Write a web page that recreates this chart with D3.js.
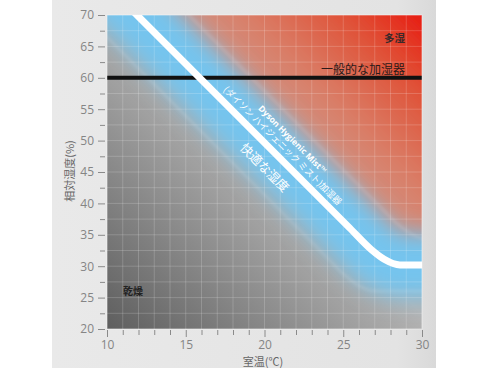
<!DOCTYPE html>
<html>
<head>
<meta charset="utf-8">
<script src="https://cdn.jsdelivr.net/npm/d3@7"></script>
<style>
  body { margin: 0; background: #fff; }
  text { font-family: "Open Sans", "Noto Sans", sans-serif; }
  .jp { font-family: "Noto Sans CJK JP", sans-serif; }
</style>
</head>
<body>
<svg id="humidity" width="490" height="368"></svg>
<script>
const svg = d3.select('#humidity');

// axis ticks
const tempTicks = d3.range(10, 30.1, 1);
const tempLabels = [10, 15, 20, 25, 30];
const humTicks = d3.range(20, 70.1, 2.5);
const humLabels = [20, 25, 30, 35, 40, 45, 50, 55, 60, 65, 70];

// Dyson Hygienic Mist curve (temp C, rel. humidity %)
const mistTemp = [10.0, 11.9, 25.4, 26.8, 27.6, 28.6, 30.0, 34.0];
const mistHum  = [74.8, 70.0, 36.1, 32.6, 31.1, 30.2, 30.2, 30.2];
// ordinary humidifier level
const generalHum = 60;

const mist = mistTemp.map((t, i) => ({ t, h: mistHum[i] }));

const x = d3.scaleLinear().domain([10, 30]).range([107, 422]);
const y = d3.scaleLinear().domain([20, 70]).range([329, 15]);
const [x0, x1] = x.range();
const [y0, y1] = [y(70), y(20)];

const defs = svg.append('defs');

// background panel
const panelGrad = defs.append('linearGradient').attr('id', 'panel')
  .attr('x1', 0).attr('x2', 1).attr('y1', 0).attr('y2', 0);
panelGrad.append('stop').attr('offset', 0).attr('stop-color', '#e9e9e9');
panelGrad.append('stop').attr('offset', 0.9).attr('stop-color', '#e3e3e3');
panelGrad.append('stop').attr('offset', 1).attr('stop-color', '#d9d9d9');
svg.append('rect').attr('x', 52).attr('y', 0).attr('width', 384).attr('height', 368)
  .attr('fill', 'url(#panel)');

defs.append('clipPath').attr('id', 'plot-clip')
  .append('rect').attr('x', x0).attr('y', y0).attr('width', x1 - x0).attr('height', y1 - y0);

// gray (dry) gradient
const grayGrad = defs.append('linearGradient').attr('id', 'gray')
  .attr('gradientUnits', 'userSpaceOnUse')
  .attr('x1', x0).attr('y1', y1).attr('x2', 272).attr('y2', 164);
grayGrad.append('stop').attr('offset', 0).attr('stop-color', '#5e5e5e');
grayGrad.append('stop').attr('offset', 1).attr('stop-color', '#b4b4b4');

// red (humid) gradient
const redGrad = defs.append('linearGradient').attr('id', 'red')
  .attr('gradientUnits', 'userSpaceOnUse')
  .attr('x1', 272).attr('y1', 150).attr('x2', 422).attr('y2', 0);
redGrad.append('stop').attr('offset', 0).attr('stop-color', '#c99c90');
redGrad.append('stop').attr('offset', 0.35).attr('stop-color', '#d9806a');
redGrad.append('stop').attr('offset', 0.7).attr('stop-color', '#e05035');
redGrad.append('stop').attr('offset', 1).attr('stop-color', '#e8100a');

const blur = (id, sd) => defs.append('filter').attr('id', id)
  .attr('filterUnits', 'userSpaceOnUse')
  .attr('x', 0).attr('y', -100).attr('width', 600).attr('height', 600)
  .append('feGaussianBlur').attr('stdDeviation', sd);
blur('soft-red', 12);
blur('soft-blue', 11);
blur('soft-edge', 1.5);

const plot = svg.append('g').attr('clip-path', 'url(#plot-clip)');

plot.append('rect').attr('x', x0).attr('y', y0).attr('width', x1 - x0).attr('height', y1 - y0)
  .attr('fill', 'url(#gray)');

const line = d3.line().x(d => x(d.t)).y(d => y(d.h)).curve(d3.curveMonotoneX);
const area = d3.area().x(d => x(d.t)).y0(d => y(d.h)).y1(y(90)).curve(d3.curveMonotoneX);

plot.append('path').attr('d', area(mist))
  .attr('fill', 'url(#red)').attr('filter', 'url(#soft-red)');

plot.append('path').attr('d', line(mist))
  .attr('fill', 'none').attr('stroke', '#74c4ee').attr('stroke-width', 64)
  .attr('filter', 'url(#soft-blue)');

// faint band edges
[[-26, 26], [26, -26]].forEach(([dx, dy]) => {
  plot.append('path').attr('d', line(mist))
    .attr('transform', `translate(${dx},${dy})`)
    .attr('fill', 'none').attr('stroke', '#fff').attr('stroke-opacity', 0.15)
    .attr('stroke-width', 2).attr('filter', 'url(#soft-edge)');
});

// grid
plot.append('g').selectAll('line').data(tempTicks).join('line')
  .attr('x1', d => x(d)).attr('x2', d => x(d)).attr('y1', y0).attr('y2', y1)
  .attr('stroke', '#fff').attr('stroke-opacity', 0.18);
plot.append('g').selectAll('line').data(humTicks).join('line')
  .attr('y1', d => y(d)).attr('y2', d => y(d)).attr('x1', x0).attr('x2', x1)
  .attr('stroke', '#fff').attr('stroke-opacity', 0.18);

plot.append('line')
  .attr('x1', x0).attr('x2', x1).attr('y1', y(generalHum)).attr('y2', y(generalHum))
  .attr('stroke', '#111').attr('stroke-width', 4);

plot.append('path').attr('d', line(mist))
  .attr('fill', 'none').attr('stroke', '#fff').attr('stroke-width', 7);

svg.append('rect').attr('x', x0).attr('y', y0).attr('width', x1 - x0).attr('height', y1 - y0)
  .attr('fill', 'none').attr('stroke', '#fff').attr('stroke-opacity', 0.4);

// axes
const styleAxis = (g, labels) => {
  g.select('.domain').remove();
  g.selectAll('.tick line').attr('stroke', '#8a8a8a');
  g.selectAll('.tick text').attr('fill', '#858585').attr('font-size', 12);
  g.selectAll('.tick').filter(d => !labels.includes(d)).select('line')
    .attr(g.attr('class') === 'y' ? 'x2' : 'y2', g.attr('class') === 'y' ? -5 : 5);
};

svg.append('g').attr('class', 'y').attr('transform', `translate(${x0 - 2},0)`)
  .call(d3.axisLeft(y).tickValues(humTicks).tickSize(7).tickPadding(4)
    .tickFormat(d => humLabels.includes(d) ? d : ''))
  .call(g => styleAxis(g, humLabels));

svg.append('g').attr('class', 'x').attr('transform', `translate(0,${y1 + 1})`)
  .call(d3.axisBottom(x).tickValues(tempTicks).tickSize(7).tickPadding(3)
    .tickFormat(d => tempLabels.includes(d) ? d : ''))
  .call(g => styleAxis(g, tempLabels));

svg.append('text').attr('class', 'jp')
  .attr('transform', `translate(74,171) rotate(-90)`)
  .attr('text-anchor', 'middle').attr('font-size', 11).attr('fill', '#666')
  .text('相対湿度(%)');
svg.append('text').attr('class', 'jp')
  .attr('x', 263).attr('y', 366)
  .attr('text-anchor', 'middle').attr('font-size', 11).attr('fill', '#666')
  .text('室温(℃)');

// region labels
svg.append('text').attr('class', 'jp')
  .attr('x', 405).attr('y', 42).attr('text-anchor', 'end')
  .attr('font-size', 10.5).attr('font-weight', 'bold').attr('fill', '#3a2a2a')
  .text('多湿');
svg.append('text').attr('class', 'jp')
  .attr('x', 405).attr('y', 74).attr('text-anchor', 'end')
  .attr('font-size', 12).attr('fill', '#2a1a1a')
  .text('一般的な加湿器');
svg.append('text').attr('class', 'jp')
  .attr('x', 123).attr('y', 295)
  .attr('font-size', 10).attr('font-weight', 'bold').attr('fill', '#222')
  .text('乾燥');

// labels along the mist curve
const p0 = mist[1], p1 = mist[2];
const angle = Math.atan2(y(p1.h) - y(p0.h), x(p1.t) - x(p0.t)) * 180 / Math.PI;
const along = svg.append('g')
  .attr('transform', `translate(${x(p0.t)},${y(p0.h)}) rotate(${angle})`)
  .attr('fill', '#fff');
along.append('text')
  .attr('x', 152).attr('y', -19)
  .attr('font-size', 8.5).attr('font-weight', 'bold')
  .text('Dyson Hygienic Mist™');
along.append('text').attr('class', 'jp')
  .attr('x', 114).attr('y', -7.5)
  .attr('font-size', 9)
  .text('(ダイソン ハイジェニック ミスト)加湿器');
along.append('text').attr('class', 'jp')
  .attr('x', 167).attr('y', 22)
  .attr('font-size', 12.5)
  .text('快適な湿度');
</script>
</body>
</html>
